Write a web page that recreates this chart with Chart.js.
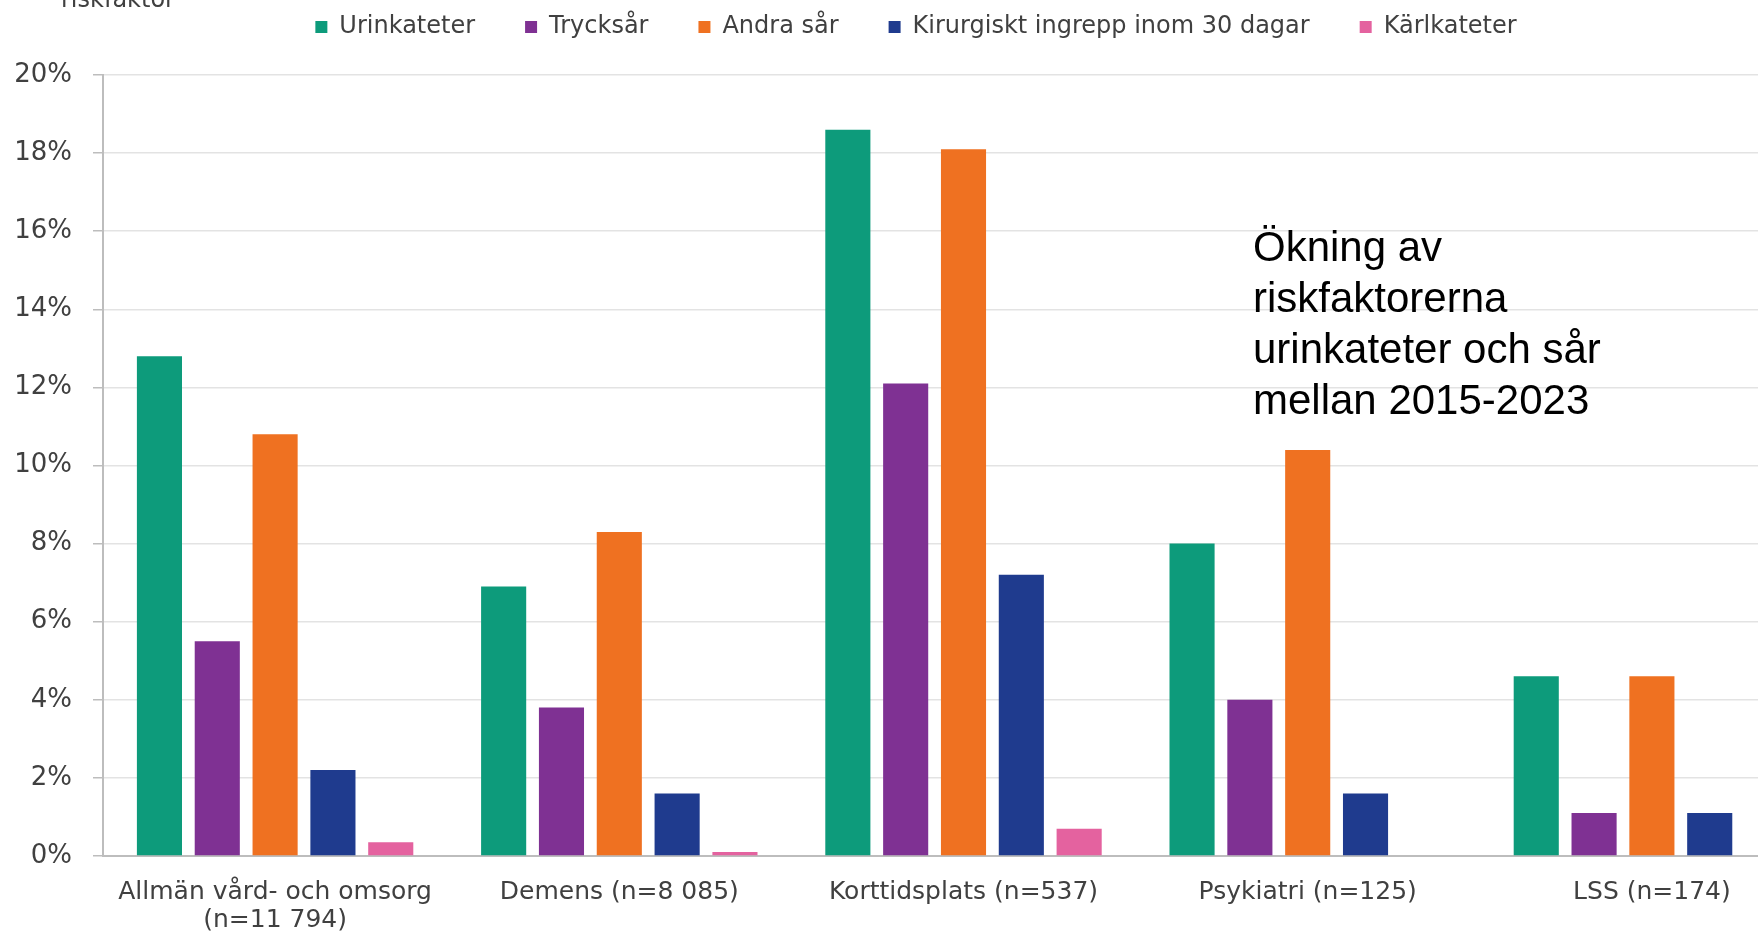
<!DOCTYPE html>
<html lang="sv">
<head>
<meta charset="utf-8">
<title>Riskfaktorer</title>
<script src="https://cdn.jsdelivr.net/npm/chart.js@4"></script>
<style>
  html, body { margin: 0; padding: 0; background: #fff; overflow: hidden; }
  #wrap { position: absolute; left: 0; width: 1832px; height: 983px; }
</style>
</head>
<body>
<div id="wrap"><canvas id="chart"></canvas></div>
<script>
// --- data (andel med riskfaktor, %) ---
const categories = [
  ['Allmän vård- och omsorg', '(n=11 794)'],
  'Demens (n=8 085)',
  'Korttidsplats (n=537)',
  'Psykiatri (n=125)',
  'LSS (n=174)',
];
const seriesNames = ['Urinkateter', 'Trycksår', 'Andra sår', 'Kirurgiskt ingrepp inom 30 dagar', 'Kärlkateter'];
const urinkateter = [12.8, 6.9, 18.6, 8.0, 4.6];
const trycksar    = [5.5, 3.8, 12.1, 4.0, 1.1];
const andraSar    = [10.8, 8.3, 18.1, 10.4, 4.6];
const kirurgiskt  = [2.2, 1.6, 7.2, 1.6, 1.1];
const karlkateter = [0.35, 0.1, 0.7, 0, null];
const yTicks = [0, 2, 4, 6, 8, 10, 12, 14, 16, 18, 20];
const noteLines = ['Ökning av', 'riskfaktorerna', 'urinkateter och sår', 'mellan 2015-2023'];

const COLORS = ['#0d9b7b', '#7f3193', '#ef7121', '#1f3b8e', '#e4629f'];
const FONT = '"DejaVu Sans", Verdana, sans-serif';

// originalet är beskuret upptill och till höger -> canvasen är större än fönstret
const SHIFT = 35;
document.getElementById('wrap').style.top = -SHIFT + 'px';

// extra luft mellan förklaring och diagramyta
const legendGap = {
  id: 'legendGap',
  beforeInit(chart) {
    const fit = chart.legend.fit;
    chart.legend.fit = function () { fit.call(this); this.height += 26; };
  }
};

// text utanför själva diagrammet (avskuren axeltitel + kommentar)
const extras = {
  id: 'extras',
  afterDraw(chart) {
    const c = chart.ctx;
    c.save();
    c.fillStyle = '#404040';
    c.font = '24px ' + FONT;
    c.textBaseline = 'alphabetic';
    c.fillText('riskfaktor', 61, SHIFT + 7);
    c.fillStyle = '#000';
    c.font = '42px "Liberation Sans", Arial, sans-serif';
    c.textBaseline = 'middle';
    noteLines.forEach((t, i) => c.fillText(t, 1253, SHIFT + 249 + i * 51));
    c.restore();
  }
};

const series = [urinkateter, trycksar, andraSar, kirurgiskt, karlkateter];

new Chart(document.getElementById('chart'), {
  type: 'bar',
  data: {
    labels: categories,
    datasets: series.map((d, i) => ({
      label: seriesNames[i],
      data: d,
      backgroundColor: COLORS[i],
      borderWidth: 0,
      categoryPercentage: 0.84,
      barPercentage: 0.78,
    })),
  },
  options: {
    responsive: true,
    maintainAspectRatio: false,
    animation: false,
    layout: { padding: { top: 0, left: 8, right: 8, bottom: 0 } },
    plugins: {
      legend: {
        position: 'top',
        labels: { font: { family: FONT, size: 24 }, color: '#404040', boxWidth: 12, boxHeight: 12, padding: 50 },
      },
      tooltip: { enabled: false },
    },
    scales: {
      x: {
        grid: { display: false },
        border: { display: true, color: '#bdbdbd', width: 2 },
        ticks: { font: { family: FONT, size: 25, lineHeight: 1.12 }, color: '#404040', padding: 14, maxRotation: 0, autoSkip: false },
      },
      y: {
        min: 0, max: 20,
        afterBuildTicks: (s) => { s.ticks = yTicks.map(v => ({ value: v })); },
        afterFit: (s) => { s.width = 95; },
        grid: { color: '#e3e3e3', lineWidth: 1.5, tickLength: 10, tickColor: '#bdbdbd' },
        border: { display: true, color: '#bdbdbd', width: 2 },
        ticks: { font: { family: FONT, size: 26 }, color: '#404040', padding: 21, callback: v => v + '%' },
      },
    },
  },
  plugins: [legendGap, extras],
});
</script>
</body>
</html>
